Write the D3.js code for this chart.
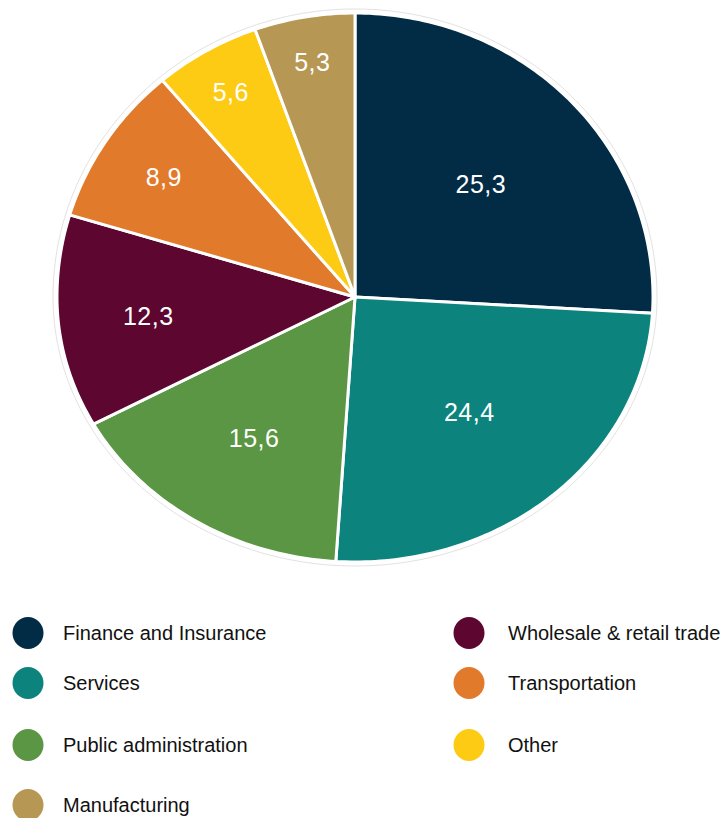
<!DOCTYPE html>
<html>
<head>
<meta charset="utf-8">
<script src="https://cdn.jsdelivr.net/npm/d3@7"></script>
<style>
  html, body { margin: 0; padding: 0; background: #fff; }
  svg { display: block; }
</style>
</head>
<body>
<svg id="chart" width="725" height="818"></svg>
<script>
const categories = ["Finance and Insurance", "Services", "Public administration", "Wholesale & retail trade", "Transportation", "Other", "Manufacturing"];
const values = [25.3, 24.4, 15.6, 12.3, 8.9, 5.6, 5.3];
const valueLabels = ["25,3", "24,4", "15,6", "12,3", "8,9", "5,6", "5,3"];
const colors = ["#022b45", "#0c847d", "#5b9644", "#5d062f", "#e27a2b", "#fecb14", "#b69854"];
const legendCol1 = ["Finance and Insurance", "Services", "Public administration", "Manufacturing"];
const legendCol2 = ["Wholesale & retail trade", "Transportation", "Other"];

const svg = d3.select("#chart");
const cx = 355, cy = 297, rx = 298, ryTop = 284, ryBot = 265;

function pt(a, f) {
  const s = Math.sin(a), c = Math.cos(a);
  const ry = c > 0 ? ryTop : ryBot;
  return [cx + rx * f * s, cy - ry * f * c];
}

const pie = d3.pie().sort(null).value(d => d.v);
const data = categories.map((c, i) => ({ c, v: values[i], l: valueLabels[i], col: colors[i] }));
const arcs = pie(data);
const line = d3.line();

// outer faint outline
const outline = d3.range(0, 361).map(d => {
  const a = d * Math.PI / 180;
  const s = Math.sin(a), c = Math.cos(a);
  const ry = (c > 0 ? ryTop : ryBot) + 4;
  return [cx + (rx + 4) * s, cy - ry * c];
});
svg.append("path").attr("d", line(outline) + "Z")
  .attr("fill", "none").attr("stroke", "#e2e2e2").attr("stroke-width", 1);

svg.append("g").selectAll("path").data(arcs).join("path")
  .attr("d", d => {
    const n = Math.max(8, Math.ceil((d.endAngle - d.startAngle) * 60));
    const pts = [[cx, cy]];
    for (let i = 0; i <= n; i++) {
      const a = d.startAngle + (d.endAngle - d.startAngle) * i / n;
      pts.push(pt(a, 1));
    }
    return line(pts) + "Z";
  })
  .attr("fill", d => d.data.col)
  .attr("stroke", "#fff")
  .attr("stroke-width", 3)
  .attr("stroke-linejoin", "round");

// label radius fraction: narrow slices get labels further out
const labelFrac = d => Math.max(0.58, 0.95 - (d.endAngle - d.startAngle) / Math.PI);

svg.append("g").selectAll("text").data(arcs).join("text")
  .attr("x", d => pt((d.startAngle + d.endAngle) / 2, labelFrac(d))[0])
  .attr("y", d => pt((d.startAngle + d.endAngle) / 2, labelFrac(d))[1])
  .attr("text-anchor", "middle")
  .attr("dominant-baseline", "central")
  .attr("fill", "#fff")
  .attr("font-family", "Liberation Sans, Arial, sans-serif")
  .attr("font-size", 25)
  .attr("letter-spacing", 0.5)
  .text(d => d.data.l);

const colorOf = c => colors[categories.indexOf(c)];
const rowY1 = [633, 683, 745, 805];
const rowY2 = [633, 683, 745];
function legend(items, rows, xc, xt) {
  const g = svg.append("g");
  items.forEach((c, i) => {
    g.append("ellipse").attr("cx", xc).attr("cy", rows[i]).attr("rx", 15.5).attr("ry", 16)
      .attr("fill", colorOf(c));
    g.append("text").attr("x", xt).attr("y", rows[i]).attr("dominant-baseline", "central")
      .attr("font-family", "Liberation Sans, Arial, sans-serif").attr("font-size", 20)
      .attr("fill", "#111").text(c);
  });
}
legend(legendCol1, rowY1, 28, 63);
legend(legendCol2, rowY2, 469, 508);
</script>
</body>
</html>
